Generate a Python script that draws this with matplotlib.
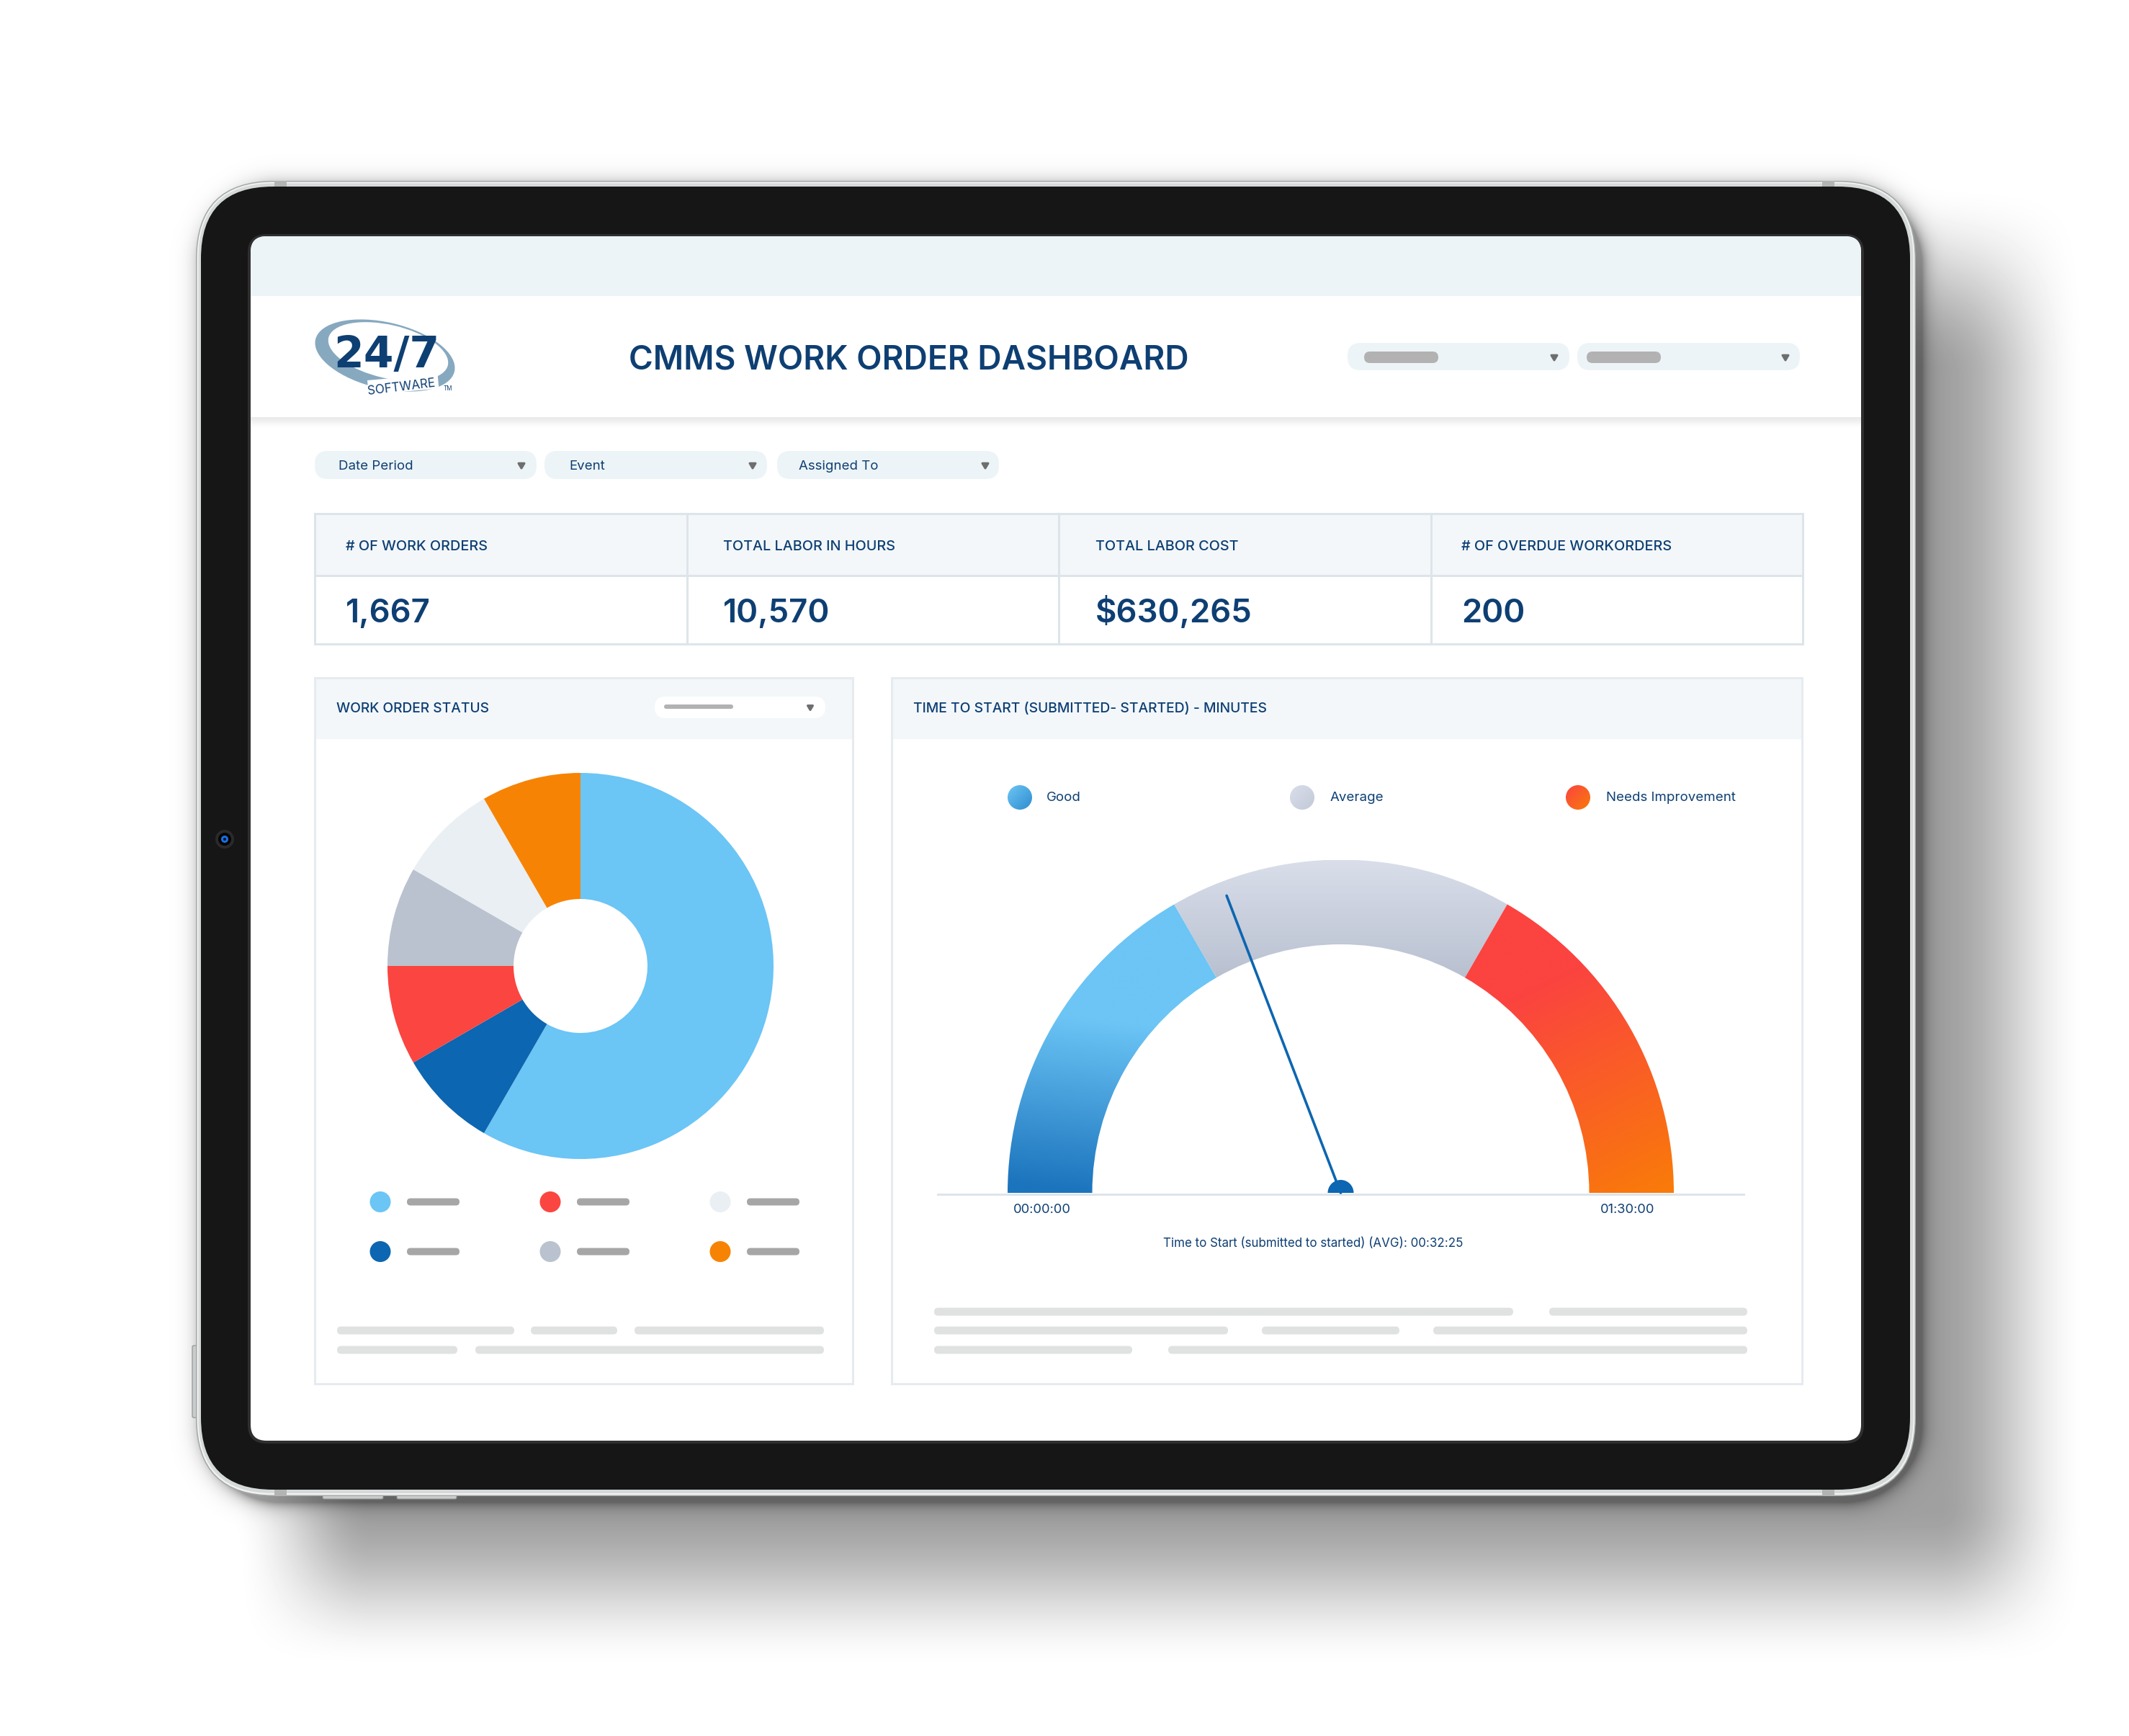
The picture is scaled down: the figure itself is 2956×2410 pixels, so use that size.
import numpy as np
import matplotlib
matplotlib.use("Agg")
import matplotlib.pyplot as plt
from matplotlib.patches import FancyBboxPatch, Ellipse, Wedge, Polygon, Circle, Rectangle
from matplotlib.colors import to_rgb

plt.rcParams['font.family'] = ['Inter', 'DejaVu Sans']

W, H = 2956, 2410
NAVY = "#0e3f73"

# ---- data
title = "CMMS WORK ORDER DASHBOARD"
filter_labels = ["Date Period", "Event", "Assigned To"]
kpi_labels = ["# OF WORK ORDERS", "TOTAL LABOR IN HOURS", "TOTAL LABOR COST", "# OF OVERDUE WORKORDERS"]
kpi_values = ["1,667", "10,570", "$630,265", "200"]

status_shares = [210, 30, 30, 30, 30, 30]
status_colors = ["#6bc5f5", "#0c66b1", "#fb4540", "#bac2cf", "#e9eff3", "#f78304"]

gauge_names = ["Good", "Average", "Needs Improvement"]
gauge_minutes = [30, 30, 30]
needle_minutes = 34.5
gauge_ticks = ["00:00:00", "01:30:00"]
gauge_caption = "Time to Start (submitted to started) (AVG): 00:32:25"


def ramp(v, a, b):
    t = np.clip((v - a) / (b - a), 0, 1)
    return t * t * (3 - 2 * t)


def lerp_image(t, c0, c1):
    c0, c1 = np.array(to_rgb(c0)), np.array(to_rgb(c1))
    return c0 + t[..., None] * (c1 - c0)


def rbox(ax, x0, y0, x1, y1, r, color, z=2, ec="none", lw=0):
    p = FancyBboxPatch((x0 + r, y0 + r), x1 - x0 - 2 * r, y1 - y0 - 2 * r,
                       boxstyle="round,pad=%f,rounding_size=%f" % (r, r),
                       fc=color, ec=ec, lw=lw, zorder=z)
    ax.add_patch(p)
    return p


def bar(ax, x0, x1, yc, h=11, color="#e0e2e2"):
    rbox(ax, x0, yc - h / 2, x1, yc + h / 2, h / 2 - 0.01, color, z=4)


def arrow(ax, xc, yc, s=4):
    ax.add_patch(Polygon([(xc - s, yc - s * 0.7), (xc + s, yc - s * 0.7), (xc, yc + s)], closed=True,
                         fc="#6e6e6e", ec="#6e6e6e", lw=2.2, joinstyle="round", zorder=5))


def txt(ax, x, yc, s, px, weight="normal", color=NAVY, ha="left", **kw):
    # yc is the middle of the capitals
    return ax.text(x, yc + 0.364 * px, s, fontsize=px * 0.72, fontweight=weight, color=color, ha=ha,
                   va="baseline", zorder=6, **kw)


fig = plt.figure(figsize=(W / 100, H / 100), dpi=100, facecolor="white")
ax = fig.add_axes([0, 0, 1, 1])
ax.axis("off")

# ---- soft shadow behind the tablet
xx, yy = np.meshgrid(np.arange(W), np.arange(H))
main_sh = 0.373 * ramp(xx, 323, 516) * (1 - ramp(xx, 2690, 2900)) * (1 - ramp(yy, 2090, 2320)) * ramp(yy, 250, 520)
cx, cy, hw, hh, r0 = 2660 / 2 + 272 / 2 + 8, (251 + 2077) / 2 + 8, (2660 - 272) / 2, (2077 - 251) / 2, 108
qx, qy = np.abs(xx - cx) - hw + r0, np.abs(yy - cy) - hh + r0
dist = np.hypot(np.maximum(qx, 0), np.maximum(qy, 0)) + np.minimum(np.maximum(qx, qy), 0) - r0
contact = 0.38 * np.exp(-np.maximum(dist, 0) / 10)
shade = (1 - main_sh) * (1 - contact)
ax.imshow(shade, cmap="gray", vmin=0, vmax=1, extent=(0, W, H, 0), aspect="auto", zorder=0)

# ---- tablet body
for bx, by, bx1, by1 in [(448, 2074, 532, 2081), (551, 2074, 634, 2081), (267, 1868, 275, 1968)]:
    rbox(ax, bx, by, bx1, by1, 2, "#c9cccc", z=1, ec="#8f8f8f", lw=0.8)
rbox(ax, 272, 251, 2660, 2077, 108, "#a6a8a8", z=1)
rbox(ax, 273.5, 252.5, 2658.5, 2075.5, 106.5, "#f1f2f2", z=1)
rbox(ax, 275.5, 254.5, 2656.5, 2073, 104, "#d6d9d9", z=1)
for nx in (381, 2530):
    ax.add_patch(Rectangle((nx, 251), 17, 9, fc="#b2b3b3", ec="none", zorder=1))
    ax.add_patch(Rectangle((nx, 2067), 17, 10, fc="#b2b3b3", ec="none", zorder=1))
rbox(ax, 279, 259, 2652, 2068, 100, "#161616", z=2)
rbox(ax, 344, 325, 2588, 2004, 26, "#2f2f2f", z=2)
screen = rbox(ax, 348, 328, 2584, 2000, 22, "white", z=2)

# camera
for rad, col in [(13, "#2a2a2a"), (9, "#050505"), (5, "#1a6fe0"), (2, "#06122a")]:
    ax.add_patch(Circle((312, 1165), rad, fc=col, ec="none", zorder=3))

# ---- screen header
band = Rectangle((348, 328), 2236, 83, fc="#edf4f7", ec="none", zorder=3)
ax.add_patch(band)
band.set_clip_path(screen)
glow = ax.imshow(lerp_image(ramp(np.linspace(0, 1, 16), 0, 1)[:, None], "#ebebeb", "#ffffff"),
                 extent=(348, 2584, 595, 579), aspect="auto", zorder=3)

# logo
ax.add_patch(Ellipse((534.5, 493.5), 198, 92, angle=13, fc="#86a9c0", ec="none", zorder=3))
ax.add_patch(Ellipse((539, 488), 170, 74, angle=13, fc="white", ec="none", zorder=3))
ax.add_patch(Rectangle((510, 528), 98, 20, angle=-5, fc="white", ec="none", zorder=3))
txt(ax, 537, 488, "24/7", 60, weight="bold", family=['DejaVu Sans'], ha="center")
txt(ax, 558, 536, "SOFTWARE", 17, color=NAVY, ha="center", rotation=7, rotation_mode="anchor")
txt(ax, 622, 539, "TM", 8, color=NAVY, ha="center")

txt(ax, 873, 496, title, 46, weight="semibold")

# top right selects
for x0, x1, bx, bx1, ax_x in [(1871, 2179, 1894, 1997, 2158), (2190, 2499, 2203, 2306, 2479)]:
    rbox(ax, x0, 476, x1, 514, 18, "#edf4f7", z=3)
    bar(ax, bx, bx1, 496, h=16, color="#b2b2b2")
    arrow(ax, ax_x, 496)

# filter pills
filter_boxes = [(437, 745, 470, 724), (756, 1065, 790, 1045), (1079, 1387, 1109, 1368)]
for label, (x0, x1, tx, ax_x) in zip(filter_labels, filter_boxes):
    rbox(ax, x0, 626, x1, 665, 18, "#edf4f7", z=3)
    txt(ax, tx, 645, label, 18.7)
    arrow(ax, ax_x, 646)

# ---- KPI table
LINE = "#dde5ea"
kpi_x = [437, 954, 1470, 1987, 2503]
kpi_text_x = [480, 1004, 1521, 2029]
ax.add_patch(Rectangle((437, 713), 2066, 86, fc="#f3f7fa", ec="none", zorder=3))
ax.add_patch(Rectangle((437, 713), 2066, 181, fc="none", ec=LINE, lw=2.2, zorder=4))
ax.plot([437, 2503], [799, 799], color=LINE, lw=2.2, zorder=4)
for vx in kpi_x[1:-1]:
    ax.plot([vx, vx], [713, 894], color=LINE, lw=2.2, zorder=4)
for label, value, tx in zip(kpi_labels, kpi_values, kpi_text_x):
    txt(ax, tx, 757, label, 19.8, weight="medium")
    txt(ax, tx, 847, value, 45.5, weight="semibold")

# ---- panels
BORDER = "#e6ebf0"
panels = [(437, 1184), (1238, 2502)]
for x0, x1 in panels:
    ax.add_patch(Rectangle((x0, 941), x1 - x0, 85, fc="#f3f7fa", ec="none", zorder=3))
    ax.add_patch(Rectangle((x0, 941), x1 - x0, 980, fc="none", ec=BORDER, lw=2.2, zorder=4))
txt(ax, 467, 982, "WORK ORDER STATUS", 19.2, weight="medium")
txt(ax, 1268, 982, "TIME TO START (SUBMITTED- STARTED) - MINUTES", 19.3, weight="medium")
rbox(ax, 909, 967, 1146, 997, 15, "white", z=4)
bar(ax, 922, 1018, 981, h=6, color="#b2b2b2")
arrow(ax, 1125, 982, s=3.5)

# status legend and placeholder text
dot_x = [528, 764, 1000]
dot_y = [1668.5, 1737.5]
for i, col in enumerate(status_colors):
    dx, dy = dot_x[i // 2], dot_y[i % 2]
    ax.add_patch(Circle((dx, dy), 14.5, fc=col, ec="none", zorder=4))
    bar(ax, dx + 37, dx + 110, dy, h=10, color="#a6a6a6")
for x0, x1, yc in [(468, 714, 1847), (737, 857, 1847), (881, 1144, 1847), (468, 635, 1874), (660, 1144, 1874)]:
    bar(ax, x0, x1, yc)
for x0, x1, yc in [(1297, 2101, 1821), (2151, 2426, 1821), (1297, 1705, 1847), (1752, 1943, 1847),
                   (1990, 2426, 1847), (1297, 1572, 1874), (1622, 2426, 1874)]:
    bar(ax, x0, x1, yc)

# gauge legend, labels
ax.plot([1302, 2421], [1658, 1658], color="#dfe5ea", lw=2.2, zorder=4)
legend_x = [(1416, 1453), (1808, 1847), (2191, 2230)]
legend_grad = [("#6cc5f5", "#2f8dcf"), ("#d9deea", "#c2c9d8"), ("#fb4540", "#f97a0a")]
ty, tx_ = np.meshgrid(np.linspace(0, 1, 40), np.linspace(0, 1, 40))
for name, (dx, tx), (c0, c1) in zip(gauge_names, legend_x, legend_grad):
    im = ax.imshow(lerp_image((ty * 0.5 + tx_ * 0.5), c0, c1), extent=(dx - 17, dx + 17, 1124, 1090),
                   aspect="auto", zorder=4)
    clip = Circle((dx, 1107), 17, transform=ax.transData)
    im.set_clip_path(clip)
    txt(ax, tx, 1105, name, 18.7)
txt(ax, 1447, 1677, gauge_ticks[0], 18.3, ha="center")
txt(ax, 2260, 1677, gauge_ticks[1], 18.3, ha="center")
txt(ax, 1823, 1725, gauge_caption, 17, ha="center")
ax.set_xlim(0, W)
ax.set_ylim(H, 0)

# ---- donut
DON_R = 268
pie_ax = fig.add_axes([(806 - DON_R) / W, 1 - (1341 + DON_R) / H, 2 * DON_R / W, 2 * DON_R / H])
pie_ax.pie(status_shares, colors=status_colors, startangle=90, counterclock=False, radius=1,
           wedgeprops=dict(width=1 - 93 / DON_R, linewidth=0))
pie_ax.set_xlim(-1, 1)
pie_ax.set_ylim(-1, 1)
pie_ax.set_aspect("equal")
pie_ax.patch.set_alpha(0)

# ---- gauge, one unit is the outer radius
G_R = 462.5
gauge_ax = fig.add_axes([(1861.5 - G_R) / W, 1 - 1656 / H, 2 * G_R / W, G_R / H])
gauge_ax.axis("off")
gauge_ax.patch.set_alpha(0)
total = sum(gauge_minutes)
edges = np.cumsum([0] + gauge_minutes)
gx, gy = np.meshgrid(np.linspace(-1, 1, 500), np.linspace(1, 0, 250))
grads = [
    lerp_image(np.clip((0.52 - gy + (gx + 0.75) * -0.12) / 0.52, 0, 1), "#6cc5f5", "#1c74bd"),
    lerp_image(np.clip((1 - gy) / 0.38, 0, 1), "#d9deea", "#b6bece"),
    lerp_image(np.clip(((gx - 0.45) * 0.45 + (0.55 - gy) * 0.9) / 0.72, 0, 1), "#fb4340", "#f97a0a"),
]
for i in range(len(gauge_minutes)):
    th0 = 180 - edges[i + 1] / total * 180
    th1 = 180 - edges[i] / total * 180
    im = gauge_ax.imshow(grads[i], extent=(-1, 1, 0, 1), aspect="auto", zorder=1, origin="upper")
    w = Wedge((0, 0), 1, th0, th1, width=1 - 345 / G_R, transform=gauge_ax.transData, fc="none", ec="none")
    im.set_clip_path(w)
gauge_ax.set_xlim(-1, 1)
gauge_ax.set_ylim(0, 1)
ang = np.deg2rad(180 - needle_minutes / total * 180)
n_len = 442 / G_R
gauge_ax.plot([0, n_len * np.cos(ang)], [0, n_len * np.sin(ang)], color="#0c66b1", lw=2.6, zorder=3,
              solid_capstyle="round", clip_on=False)
gauge_ax.add_patch(Wedge((0, 0), 18 / G_R, 0, 180, fc="#0c66b1", ec="none", zorder=4))

fig.savefig("out.png", dpi=100)
